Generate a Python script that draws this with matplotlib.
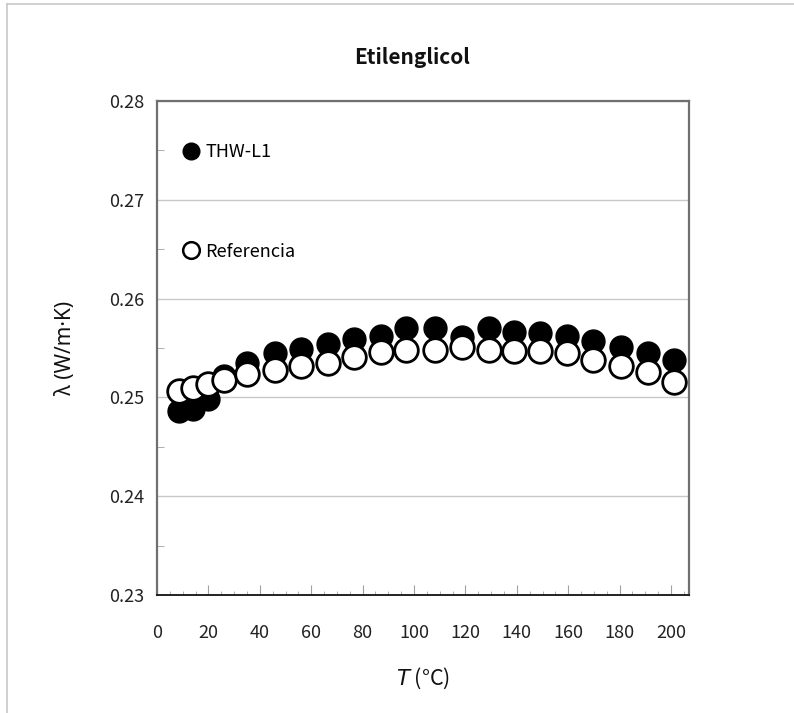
import matplotlib
matplotlib.use('Agg')
import matplotlib.pyplot as plt
from matplotlib.ticker import MultipleLocator, FormatStrFormatter
from matplotlib.lines import Line2D

plt.rcParams['font.family'] = ['Noto Sans CJK JP', 'DejaVu Sans']
plt.rcParams['mathtext.fontset'] = 'dejavusans'

# temperature (degC)
temp = [8.6, 14, 20, 26, 35, 46, 56, 66.5, 76.5, 87, 97, 108, 118.5,
        129, 139, 149, 159.5, 169.5, 180.5, 191, 201]

# THW-L1 measurements (W/m.K)
lam_thw = [0.2486, 0.2488, 0.2498, 0.2522, 0.2535, 0.2545, 0.2549, 0.2554,
           0.2559, 0.2562, 0.2570, 0.2570, 0.2561, 0.2570, 0.2566, 0.2565,
           0.2562, 0.2557, 0.2551, 0.2545, 0.2538]

# reference values
lam_ref = [0.2506, 0.2510, 0.2514, 0.2518, 0.2524, 0.2528, 0.2532, 0.2535,
           0.2541, 0.2546, 0.2548, 0.2548, 0.2551, 0.2548, 0.2547, 0.2547,
           0.2545, 0.2538, 0.2532, 0.2526, 0.2516]

fig = plt.figure(figsize=(7.94, 7.13), dpi=100)
ax = fig.add_axes([157/794, 1-595/713, (689-157)/794, (595-101)/713])

ax.plot(temp, lam_thw, 'o', ms=16.5, mfc='black', mec='black', mew=1.0,
        label='THW-L1', zorder=3)
ax.plot(temp, lam_ref, 'o', ms=17, mfc='white', mec='black', mew=2.0,
        label='Referencia', zorder=4)

ax.set_xlim(0, 207)
ax.set_ylim(0.23, 0.28)
ax.xaxis.set_major_locator(MultipleLocator(20))
ax.xaxis.set_minor_locator(MultipleLocator(5))
ax.yaxis.set_major_locator(MultipleLocator(0.01))
ax.yaxis.set_minor_locator(MultipleLocator(0.005))
ax.yaxis.set_major_formatter(FormatStrFormatter('%.2f'))

ax.grid(axis='y', which='major', color='#c8c8c8', lw=1.0)
ax.set_axisbelow(True)

ax.tick_params(which='both', direction='in', color='#a0a0a0', labelsize=13,
               labelcolor='#222222')
ax.tick_params(axis='x', which='major', length=7, pad=21)
ax.tick_params(axis='x', which='minor', length=3)
ax.tick_params(axis='y', which='major', length=0, pad=9)
ax.tick_params(axis='y', which='minor', length=5)

for s in ['left', 'right', 'top']:
    ax.spines[s].set_color('#707070')
    ax.spines[s].set_linewidth(1.6)
ax.spines['bottom'].set_color('#222222')
ax.spines['bottom'].set_linewidth(1.4)

ax.set_xlabel(r'$T$ (°C)', fontsize=15.5, labelpad=17, color='#111111')
ax.set_ylabel('λ (W/m·K)', fontsize=15, labelpad=24, color='#111111',
              family=['Noto Sans', 'DejaVu Sans'])
fig.text(412/794, 1-58/713, 'Etilenglicol', fontsize=15, fontweight='bold',
         ha='center', va='center', color='#111111')

h1 = Line2D([], [], ls='none', marker='o', ms=12, mfc='black', mec='black')
h2 = Line2D([], [], ls='none', marker='o', ms=12, mfc='white', mec='black', mew=1.8)
leg = ax.legend([h1, h2], ['THW-L1', 'Referencia'], loc='upper left',
                bbox_to_anchor=(0.025, 0.94), frameon=False, fontsize=13,
                handlelength=0.9, handletextpad=0.35, labelspacing=4.5,
                borderaxespad=0.3)

# light frame round the figure (left and top edges)
fig.add_artist(Line2D([7/794, 7/794], [0, 1-4/713], color='#c8c8c8', lw=1.2,
                      transform=fig.transFigure))
fig.add_artist(Line2D([7/794, 1], [1-4/713, 1-4/713], color='#c8c8c8', lw=1.2,
                      transform=fig.transFigure))

plt.savefig('out.png', dpi=100)
plt.close()
